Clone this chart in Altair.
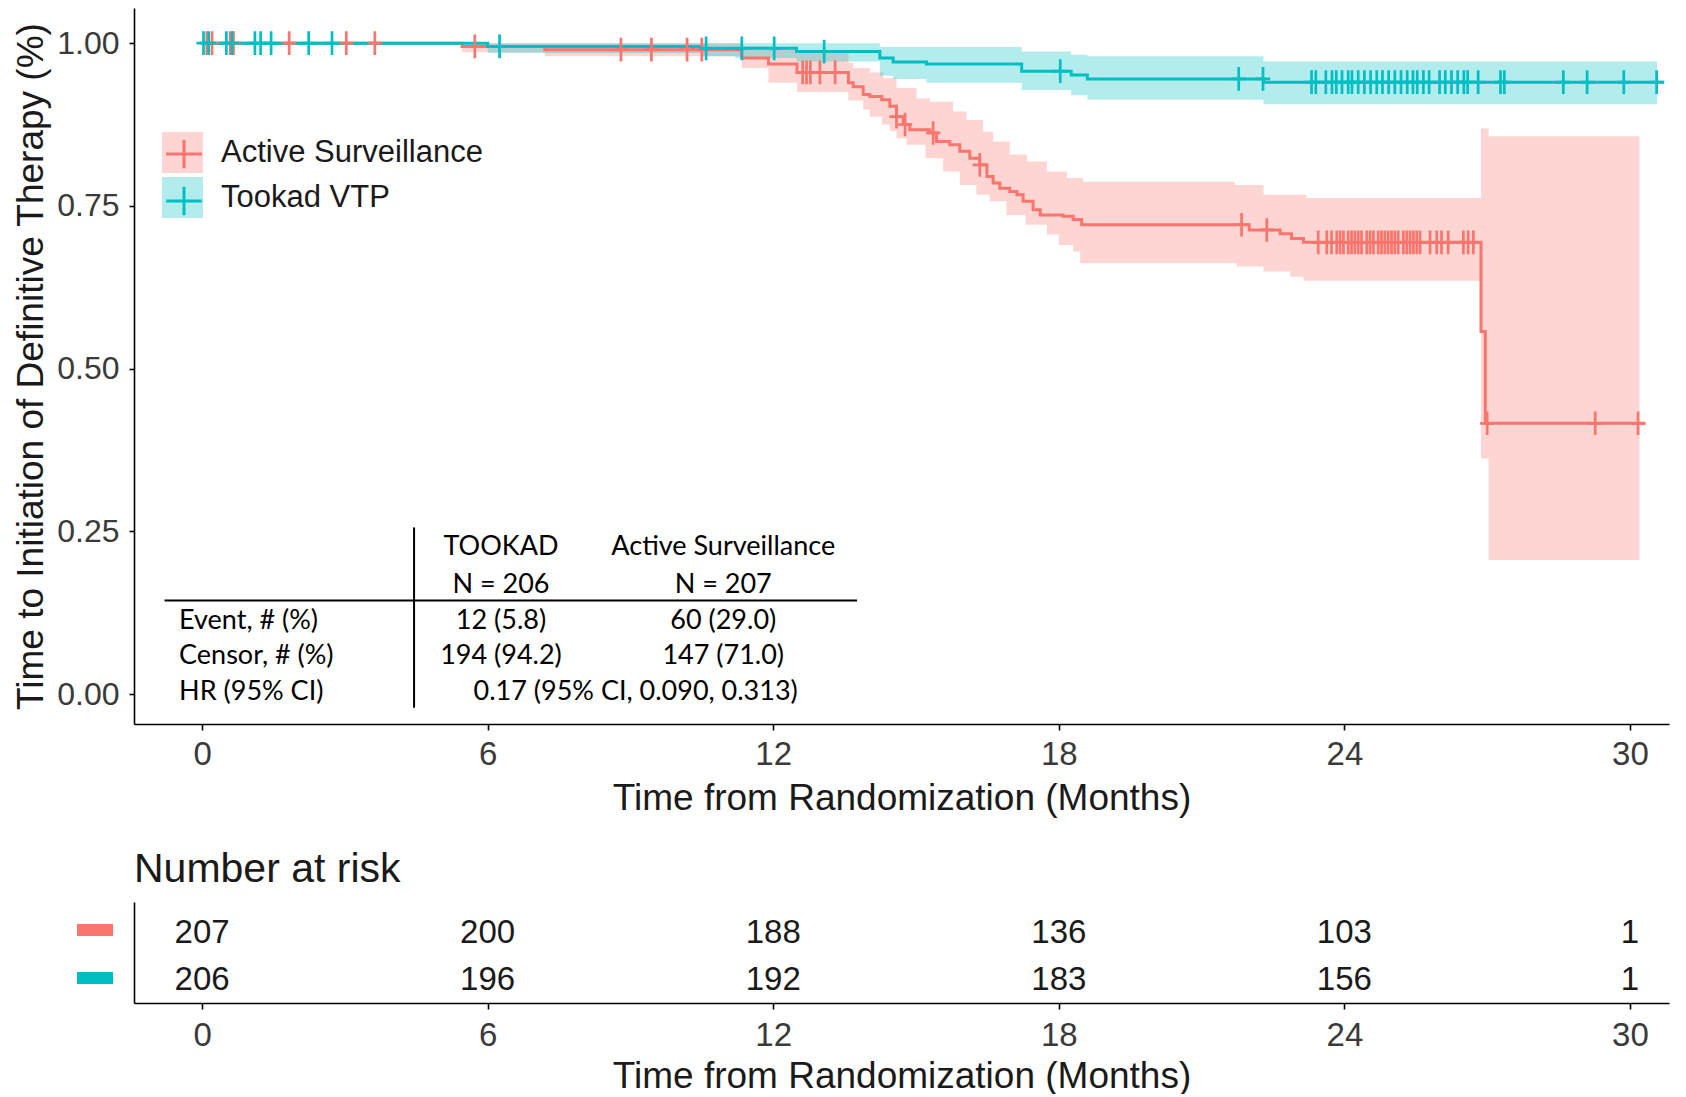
import altair as alt
import numpy as np
import pandas as pd

FONT = "Liberation Sans"
TABLE_FONT = "Lato"
GROUPS = ["Active Surveillance", "Tookad VTP"]
COLORS = ["#F8766D", "#00BFC4"]

# ---- Kaplan-Meier estimate: Active Surveillance ----
as_time = [0.0, 5.46, 7.2, 11.34, 11.9, 12.5, 13.58, 13.68, 13.89, 14.03, 14.28, 14.45, 14.59,
           14.73, 14.87, 15.29, 15.43, 15.71, 15.92, 16.13, 16.34, 16.49, 16.62, 16.76, 16.97,
           17.12, 17.25, 17.46, 17.61, 18.09, 18.30, 18.48, 22.0, 22.65, 22.89, 23.14, 26.87,
           26.96, 30.33]
as_surv = [1.0, 0.995, 0.990, 0.977, 0.968, 0.955, 0.939, 0.933, 0.921, 0.918, 0.913, 0.903, 0.887,
           0.875, 0.867, 0.862, 0.849, 0.844, 0.834, 0.823, 0.813, 0.795, 0.785, 0.777, 0.772,
           0.767, 0.757, 0.744, 0.736, 0.734, 0.729, 0.721, 0.713, 0.707, 0.700, 0.694, 0.557,
           0.416, 0.416]
as_lo_t = [0.0, 5.46, 7.2, 11.34, 11.9, 12.5, 13.58, 13.89, 14.03, 14.28, 14.45, 14.59, 14.8,
           15.2, 15.57, 15.92, 16.27, 16.55, 16.9, 17.3, 17.75, 18.0, 18.3, 18.45, 21.74, 22.3,
           22.86, 23.14, 26.87, 27.03]
as_lo_v = [1.0, 0.986, 0.980, 0.962, 0.939, 0.925, 0.912, 0.898, 0.887, 0.875, 0.865, 0.854, 0.844,
           0.823, 0.803, 0.782, 0.767, 0.757, 0.736, 0.721, 0.706, 0.690, 0.680, 0.662, 0.657, 0.649,
           0.641, 0.635, 0.362, 0.206]
as_hi_t = [0.0, 11.34, 11.9, 12.5, 13.58, 13.68, 14.03, 14.31, 14.59, 15.01, 15.29, 15.78, 16.06,
           16.41, 16.62, 16.97, 17.33, 17.75, 18.17, 18.51, 21.7, 22.3, 23.2, 26.87, 27.03]
as_hi_v = [1.0, 0.995, 0.990, 0.985, 0.970, 0.962, 0.955, 0.946, 0.931, 0.915, 0.910, 0.895, 0.882,
           0.864, 0.849, 0.829, 0.818, 0.803, 0.793, 0.787, 0.782, 0.767, 0.762, 0.869, 0.857]
as_band_end = 30.2
as_cens = [0.10, 0.21, 0.59, 0.66, 1.83, 3.03, 3.63, 5.73, 8.80, 9.44, 10.19, 10.50, 12.62, 12.70,
           12.78, 12.98, 13.30, 14.59, 14.77, 15.36, 16.34, 21.84, 22.37,
           23.45, 23.63, 23.73, 23.84, 23.91, 23.98, 24.08, 24.15, 24.22, 24.29, 24.36, 24.47,
           24.54, 24.61, 24.71, 24.78, 24.85, 24.92, 24.99, 25.06, 25.13, 25.24, 25.31, 25.38,
           25.45, 25.52, 25.59, 25.80, 25.94, 26.04, 26.18, 26.50, 26.60, 26.71,
           27.00, 29.27, 30.17]

# ---- Kaplan-Meier estimate: Tookad VTP ----
tk_time = [0.0, 6.0, 10.5, 12.49, 14.24, 14.52, 15.22, 17.22, 18.26, 18.6, 22.3, 30.72]
tk_surv = [1.0, 0.995, 0.992, 0.987, 0.977, 0.971, 0.968, 0.957, 0.951, 0.945, 0.940, 0.940]
tk_lo_t = [0.0, 6.0, 10.5, 11.2, 12.49, 14.24, 14.52, 15.22, 17.22, 18.26, 18.6, 22.3]
tk_lo_v = [1.0, 0.985, 0.980, 0.977, 0.972, 0.950, 0.945, 0.939, 0.928, 0.920, 0.913, 0.906]
tk_hi_t = [0.0, 14.24, 17.22, 18.26, 18.6, 22.3]
tk_hi_v = [1.0, 0.994, 0.987, 0.982, 0.980, 0.972]
tk_band_end = 30.57
tk_cens = [0.03, 0.14, 0.51, 0.63, 1.11, 1.23, 1.45, 2.24, 2.73, 6.25, 10.59, 11.34, 12.02,
           13.07, 18.03, 21.78, 22.29,
           23.31, 23.40, 23.61, 23.74, 23.83, 23.95, 24.08, 24.16, 24.29, 24.42, 24.55, 24.68,
           24.80, 24.93, 25.06, 25.19, 25.32, 25.44, 25.53, 25.66, 25.78, 26.00, 26.12, 26.25,
           26.38, 26.51, 26.59, 26.81, 27.28, 27.36, 28.60, 29.10, 29.87, 30.56]

# ---- Number at risk ----
risk_times = [0, 6, 12, 18, 24, 30]
as_risk = [207, 200, 188, 136, 103, 1]
tk_risk = [206, 196, 192, 183, 156, 1]

# ---- Summary table text ----
tbl_head = ["TOOKAD", "Active Surveillance"]
tbl_n = ["N = 206", "N = 207"]
tbl_rows = ["Event, # (%)", "Censor, # (%)", "HR (95% CI)"]
tbl_event = ["12 (5.8)", "60 (29.0)"]
tbl_censor = ["194 (94.2)", "147 (71.0)"]
tbl_hr = "0.17 (95% CI, 0.090, 0.313)"


def step_eval(ts, vs, grid):
    idx = np.searchsorted(np.asarray(ts), np.asarray(grid), side="right") - 1
    return np.asarray(vs)[idx]


def band_frame(group, lo_t, lo_v, hi_t, hi_v, end):
    grid = sorted(set(lo_t) | set(hi_t) | {end})
    return pd.DataFrame({"group": group, "t": grid,
                         "lo": step_eval(lo_t, lo_v, grid),
                         "hi": step_eval(hi_t, hi_v, grid)})


band_df = pd.concat([
    band_frame(GROUPS[0], as_lo_t, as_lo_v, as_hi_t, as_hi_v, as_band_end),
    band_frame(GROUPS[1], tk_lo_t, tk_lo_v, tk_hi_t, tk_hi_v, tk_band_end),
])
line_df = pd.concat([
    pd.DataFrame({"grp": GROUPS[0], "t": as_time, "s": as_surv}),
    pd.DataFrame({"grp": GROUPS[1], "t": tk_time, "s": tk_surv}),
])
cens_df = pd.concat([
    pd.DataFrame({"grp": GROUPS[0], "t": as_cens, "s": step_eval(as_time, as_surv, as_cens)}),
    pd.DataFrame({"grp": GROUPS[1], "t": tk_cens, "s": step_eval(tk_time, tk_surv, tk_cens)}),
])
risk_df = pd.concat([
    pd.DataFrame({"group": GROUPS[0], "t": risk_times, "n": as_risk}),
    pd.DataFrame({"group": GROUPS[1], "t": risk_times, "n": tk_risk}),
])

W = 1535
xscale = alt.Scale(domain=[-1.43, 30.82], nice=False, zero=False)
yscale = alt.Scale(domain=[-0.046, 1.054], nice=False, zero=False)
xaxis = alt.Axis(values=risk_times, title="Time from Randomization (Months)",
                 labelFontSize=33, titleFontSize=37, labelPadding=8, titlePadding=9, tickSize=6)
yaxis = alt.Axis(values=[0, 0.25, 0.5, 0.75, 1.0], format=".2f",
                 title="Time to Initiation of Definitive Therapy (%)",
                 labelFontSize=32, titleFontSize=37, labelPadding=10, titlePadding=6, tickSize=5)

# fill scale has an explicit domain, stroke scale a data-driven one, so that the two
# legends (square key + cross key) stay separate and can be overlaid
fill_scale = alt.Scale(domain=GROUPS, range=COLORS)
stroke_scale = alt.Scale(range=COLORS)

fill_legend = alt.Legend(orient="none", legendX=28, legendY=124, title=None,
                         symbolType="square", symbolSize=1681, symbolOpacity=0.3,
                         symbolStrokeWidth=0, labelFontSize=31, labelFont=FONT,
                         labelColor="#1a1a1a", labelOffset=18, rowPadding=4, labelLimit=0)
LEG_CROSS = "M-0.87,0H0.87M0,-0.69V0.69"
stroke_legend = alt.Legend(orient="none", legendX=28, legendY=124, title=None,
                           symbolType=LEG_CROSS, symbolSize=1681, symbolStrokeWidth=3,
                           symbolFillColor="transparent", symbolOpacity=1, labelExpr="''",
                           labelFontSize=31, labelFont=FONT, labelOffset=0, rowPadding=4)

CENS = "M0,-1V1M-0.6,0H0.6"

bands = alt.Chart(band_df).mark_area(interpolate="step-after", opacity=0.3).encode(
    x=alt.X("t:Q", scale=xscale, axis=xaxis),
    y=alt.Y("lo:Q", scale=yscale, axis=yaxis),
    y2="hi:Q",
    fill=alt.Fill("group:N", scale=fill_scale, legend=fill_legend),
)
lines = alt.Chart(line_df).mark_line(interpolate="step-after", strokeWidth=3).encode(
    x=alt.X("t:Q", scale=xscale, axis=xaxis),
    y=alt.Y("s:Q", scale=yscale, axis=yaxis),
    stroke=alt.Stroke("grp:N", scale=stroke_scale, legend=stroke_legend),
)
points = alt.Chart(cens_df).mark_point(shape=CENS, size=560, filled=False, strokeWidth=2.7,
                                       opacity=1).encode(
    x=alt.X("t:Q", scale=xscale, axis=xaxis),
    y=alt.Y("s:Q", scale=yscale, axis=yaxis),
    stroke=alt.Stroke("grp:N", scale=stroke_scale, legend=stroke_legend),
)


def one(label):
    return pd.DataFrame({"label": [label]})


def table_text(label, x, y, align="center"):
    return alt.Chart(one(label)).mark_text(
        align=align, baseline="middle", font=TABLE_FONT, fontSize=27, color="black"
    ).encode(x=alt.datum(x, scale=xscale), y=alt.datum(y, scale=yscale), text="label:N")


# table layout (data units of the chart's own scales)
col_x = [6.28, 10.95]
row_label_x = -0.483
head_y, n_y = 0.2265, 0.1680
row_y = [0.1128, 0.0583, 0.0037]
hr_x = 9.11

table_layers = []
for i in range(2):
    table_layers.append(table_text(tbl_head[i], col_x[i], head_y))
    table_layers.append(table_text(tbl_n[i], col_x[i], n_y))
    table_layers.append(table_text(tbl_event[i], col_x[i], row_y[0]))
    table_layers.append(table_text(tbl_censor[i], col_x[i], row_y[1]))
for j, lab in enumerate(tbl_rows):
    table_layers.append(table_text(lab, row_label_x, row_y[j], align="left"))
table_layers.append(table_text(tbl_hr, hr_x, row_y[2]))

vrule = alt.Chart(one("v")).mark_rule(color="black", strokeWidth=2).encode(
    x=alt.datum(4.454, scale=xscale), y=alt.datum(0.256, scale=yscale), y2=alt.datum(-0.021))
hrule = alt.Chart(one("h")).mark_rule(color="black", strokeWidth=2).encode(
    y=alt.datum(0.1437, scale=yscale), x=alt.datum(-0.788, scale=xscale), x2=alt.datum(13.76))

top = alt.layer(bands, lines, points, vrule, hrule, *table_layers).properties(width=W, height=716)

# ---- risk table ----
risk_x = alt.X("t:Q", scale=xscale,
               axis=alt.Axis(values=risk_times, title="Time from Randomization (Months)",
                             labelFontSize=33, titleFontSize=37, labelPadding=10, titlePadding=6,
                             tickSize=6))
risk_y = alt.Y("group:N", scale=alt.Scale(domain=GROUPS, padding=0.57),
               axis=alt.Axis(title=None, ticks=False, tickSize=0, labels=False))

risk_text = alt.Chart(risk_df).mark_text(font=FONT, fontSize=33, color="#1a1a1a", dy=4).encode(
    x=risk_x, y=risk_y, text="n:Q")

BAR = "M-1,-0.33H1V0.33H-1Z"
risk_keys = alt.Chart(risk_df).mark_point(filled=True, opacity=0).encode(
    x=risk_x, y=risk_y,
    color=alt.Color("group:N", scale=alt.Scale(domain=GROUPS, range=COLORS),
                    legend=alt.Legend(orient="none", legendX=-57, legendY=10, title=None,
                                      symbolType=BAR, symbolSize=1296, symbolOpacity=1,
                                      symbolStrokeWidth=0, labelExpr="''", labelOffset=0,
                                      rowPadding=24)),
)

risk = alt.layer(risk_text, risk_keys).properties(
    width=W, height=101,
    title=alt.TitleParams("Number at risk", anchor="start", frame="group", fontSize=41,
                          font=FONT, fontWeight="normal", color="#1a1a1a", offset=11))

chart = alt.vconcat(top, risk, spacing=33).resolve_scale(
    fill="independent", stroke="independent", color="independent"
).properties(
    padding={"left": 4, "top": 0, "right": 0, "bottom": 0}
).configure_view(stroke=None).configure_axis(
    grid=False, domainColor="black", tickColor="black", domainWidth=1.6, tickWidth=1.6,
    labelFont=FONT, titleFont=FONT, labelColor="#3a3a3a", titleColor="#1a1a1a",
    titleFontWeight="normal"
)

chart.save("out.html", embed_options={"renderer": "svg", "actions": False})
